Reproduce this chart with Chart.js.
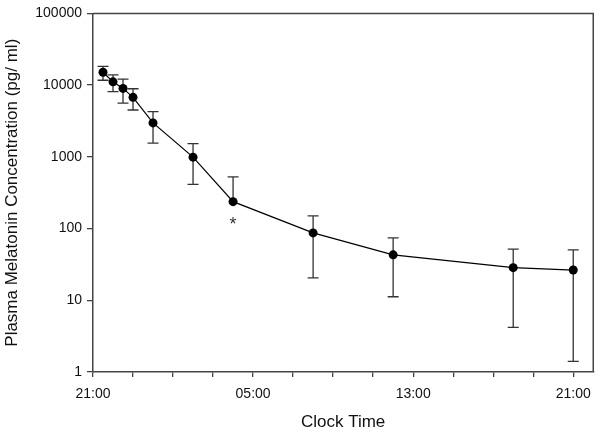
<!DOCTYPE html>
<html>
<head>
<meta charset="utf-8">
<script src="https://cdn.jsdelivr.net/npm/chart.js@4/dist/chart.umd.min.js"></script>
<style>
    html, body { margin: 0; padding: 0; background: #fff; }
    #wrap { width: 600px; height: 433px; }
</style>
</head>
<body>
<div id="wrap"><canvas id="melatoninChart" width="600" height="433"></canvas></div>
<script>
// hours after 21:00 on the first evening
const clockHours = [0.5, 1, 1.5, 2, 3, 5, 7, 11, 15, 21, 24];
const meanConc = [15100, 11100, 9000, 6750, 2970, 990, 237, 87, 43, 28.5, 26.4];
const upperConc = [18200, 13900, 12100, 8900, 4270, 1530, 527, 150, 74, 51.8, 50.6];
const lowerConc = [11700, 8100, 5600, 4500, 1550, 414, null, 20.5, 11.2, 4.2, 1.41];
const markers = ['', '', '', '', '', '', '*', '', '', '', ''];
const xTickHours = [0, 2, 4, 6, 8, 10, 12, 14, 16, 18, 20, 22, 24];
const xLabelHours = [0, 8, 16, 24];
const yTicks = [1, 10, 100, 1000, 10000, 100000];

const axisColor = '#444';
const fontFamily = '"Liberation Sans", Arial, sans-serif';

function clockLabel(h) {
    const hr = (21 + h) % 24;
    return (hr < 10 ? '0' : '') + hr + ':00';
}

// error bars under the points, box on top/right, the asterisk
const extrasPlugin = {
    id: 'extras',
    beforeDatasetsDraw(chart) {
        const ctx = chart.ctx;
        const xs = chart.scales.x, ys = chart.scales.y;
        ctx.save();
        ctx.strokeStyle = '#333';
        ctx.lineWidth = 1.3;
        clockHours.forEach((h, i) => {
            const x = xs.getPixelForValue(h);
            const yMid = ys.getPixelForValue(meanConc[i]);
            const ends = [upperConc[i], lowerConc[i]];
            ends.forEach(v => {
                if (v == null) return;
                const y = ys.getPixelForValue(v);
                ctx.beginPath();
                ctx.moveTo(x, yMid);
                ctx.lineTo(x, y);
                ctx.moveTo(x - 5.5, y);
                ctx.lineTo(x + 5.5, y);
                ctx.stroke();
            });
        });
        ctx.restore();
    },
    afterDraw(chart) {
        const ctx = chart.ctx;
        const a = chart.chartArea;
        const xs = chart.scales.x, ys = chart.scales.y;
        ctx.save();
        ctx.strokeStyle = axisColor;
        ctx.lineWidth = 1.5;
        ctx.beginPath();
        ctx.moveTo(a.left, a.top);
        ctx.lineTo(a.right, a.top);
        ctx.lineTo(a.right, a.bottom);
        ctx.stroke();

        ctx.fillStyle = '#333';
        ctx.font = '18px ' + fontFamily;
        ctx.textAlign = 'center';
        ctx.textBaseline = 'middle';
        markers.forEach((m, i) => {
            if (!m) return;
            const x = xs.getPixelForValue(clockHours[i]);
            const y = ys.getPixelForValue(meanConc[i]);
            ctx.fillText(m, x, y + 23);
        });
        ctx.restore();
    }
};

const ctx = document.getElementById('melatoninChart').getContext('2d');
const melatoninChart = new Chart(ctx, {
    type: 'line',
    data: {
        datasets: [{
            data: clockHours.map((h, i) => ({ x: h, y: meanConc[i] })),
            borderColor: '#000',
            borderWidth: 1.2,
            backgroundColor: '#000',
            pointRadius: 4.5,
            pointBackgroundColor: '#000',
            pointBorderWidth: 0,
            tension: 0,
            clip: false
        }]
    },
    options: {
        responsive: false,
        animation: false,
        devicePixelRatio: 1,
        layout: { padding: { top: 12, right: 6, left: 0, bottom: 0 } },
        plugins: { legend: { display: false }, tooltip: { enabled: false } },
        scales: {
            x: {
                type: 'linear',
                min: 0,
                max: 25,
                afterBuildTicks: axis => { axis.ticks = xTickHours.map(v => ({ value: v })); },
                afterFit: s => { s.height = 61; },
                ticks: {
                    autoSkip: false,
                    maxRotation: 0,
                    padding: 9,
                    color: '#111',
                    font: { family: fontFamily, size: 14 },
                    callback: v => xLabelHours.includes(v) ? clockLabel(v) : ''
                },
                grid: { drawOnChartArea: false, drawTicks: true, tickLength: 5, color: axisColor, lineWidth: 1.3 },
                border: { color: axisColor, width: 1.5 },
                title: {
                    display: true,
                    text: 'Clock Time',
                    color: '#111',
                    font: { family: fontFamily, size: 17 },
                    padding: { top: 4, bottom: 0 }
                }
            },
            y: {
                type: 'logarithmic',
                min: 1,
                max: 100000,
                afterBuildTicks: axis => { axis.ticks = yTicks.map(v => ({ value: v })); },
                afterFit: s => { s.width = 93; },
                ticks: {
                    padding: 5,
                    color: '#111',
                    font: { family: fontFamily, size: 14 },
                    callback: v => String(v)
                },
                grid: { drawOnChartArea: false, drawTicks: true, tickLength: 6, color: axisColor, lineWidth: 1.3 },
                border: { color: axisColor, width: 1.5 },
                title: {
                    display: true,
                    text: 'Plasma Melatonin Concentration (pg/ ml)',
                    color: '#111',
                    font: { family: fontFamily, size: 17 },
                    padding: { top: 2, bottom: 4 }
                }
            }
        }
    },
    plugins: [extrasPlugin]
});
</script>
</body>
</html>
